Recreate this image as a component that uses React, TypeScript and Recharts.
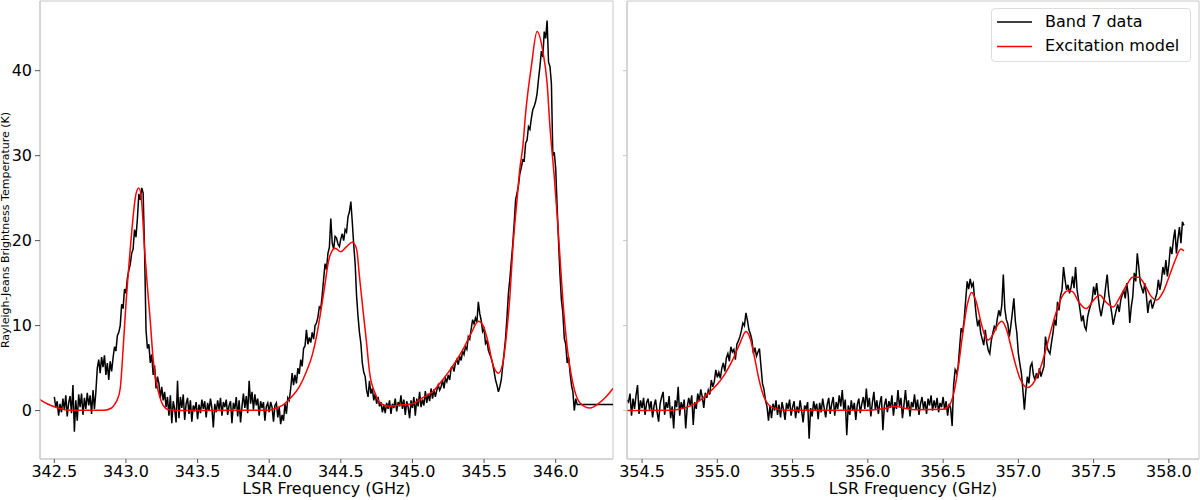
import { LineChart, Line, XAxis, YAxis, ReferenceArea, Legend } from "recharts";

// channel grid of the spectra (GHz)
const CHANNEL = 0.01;
const LEFT_START = 342.5;
const RIGHT_START = 354.4;

// Band 7 data, lower window: 342.50 ... 346.40 GHz, one value per channel
const band7Left = [
  1.6, 0.4, 1.1, -0.6, 0.8, -0.2, 1.4, 0.1, 1.8, -0.7,
  0.9, 1.7, -0.3, 3.0, -2.5, 1.2, -1.2, 1.9, 0.4, 2.0,
  -0.5, 1.5, 0.2, 2.1, 0.6, 1.8, -0.4, 2.4, 0.2, 2.2,
  5.0, 6.0, 4.4, 6.3, 5.1, 6.5, 4.2, 5.6, 3.6, 5.8,
  4.6, 6.2, 7.5, 7.0, 8.8, 9.2, 10.0, 12.5, 12.0, 14.3,
  13.8, 15.6, 16.5, 17.2, 18.5, 19.0, 21.3, 20.4, 22.6, 25.5,
  24.8, 26.2, 25.6, 18.9, 9.5, 7.3, 7.8, 5.6, 6.6, 4.2,
  5.3, 2.6, 4.0, 3.2, 1.5, 2.8, 1.2, 2.2, 0.4, 1.6,
  -0.6, 1.8, -1.5, 1.1, 0.2, -1.4, 3.5, -0.9, 1.6, 0.3,
  1.9, -1.1, 0.8, 1.5, -0.4, 1.2, -1.3, 0.6, 0.1, 1.0,
  -1.0, 0.7, -0.3, 1.3, 0.2, 1.1, -0.8, 0.9, 0.0, 1.4,
  0.3, -2.0, 0.8, -0.2, 1.2, 0.1, 1.5, -0.6, 1.0, 0.4,
  1.3, -0.5, 0.6, 1.1, -1.5, 0.9, 0.2, 1.6, -0.7, 1.2,
  -1.4, 0.5, 2.0, 0.3, 1.7, -0.3, 3.5, 0.8, 2.2, 0.1,
  1.9, 0.6, 1.4, -0.6, 1.1, 0.3, 1.0, -1.2, 0.5, 0.9,
  -0.2, 1.0, 0.4, -1.3, 0.6, 0.9, -0.8, 0.4, -1.6, -0.5,
  -1.2, 0.8, -0.4, 1.5, 1.2, 2.6, 4.4, 3.0, 4.2, 3.2,
  5.0, 4.3, 6.0, 5.2, 7.3, 7.6, 9.5, 7.8, 8.6, 8.0,
  9.2, 8.4, 10.0, 10.3, 11.0, 12.2, 12.0, 13.6, 15.5, 17.3,
  16.6, 18.5, 19.2, 22.6, 19.7, 19.0, 20.5, 20.3, 19.6, 19.3,
  20.2, 20.8, 20.0, 21.3, 21.0, 22.8, 23.4, 24.6, 22.2, 19.5,
  17.3, 13.5, 11.1, 9.2, 7.9, 5.6, 4.5, 4.0, 2.4, 1.6,
  3.5, 2.0, 2.6, 1.2, 2.0, 0.8, 1.6, 0.5, 1.0, -0.2,
  0.6, -0.3, 0.9, 0.2, 1.2, -0.4, 0.8, 0.3, 1.4, -0.1,
  1.0, 0.5, 1.8, 0.2, 1.3, -0.5, 1.1, 0.4, -0.9, 1.2,
  0.3, 1.6, -0.6, 1.4, 0.5, 2.2, 0.4, 1.3, 0.6, 2.3,
  0.9, 2.0, 1.1, 2.6, 1.4, 2.5, 1.6, 2.4, 3.0, 2.4,
  2.8, 3.6, 2.6, 3.8, 3.4, 4.2, 3.6, 5.0, 5.2, 4.6,
  5.6, 6.0, 5.4, 6.4, 5.9, 7.0, 6.6, 7.5, 7.2, 8.7,
  8.4, 9.6, 10.7, 10.2, 10.9, 10.4, 12.8, 11.4, 10.6, 9.3,
  9.6, 7.9, 8.2, 7.1, 6.6, 6.2, 5.5, 4.6, 3.6, 3.0,
  2.2, 2.8, 3.6, 5.2, 6.8, 8.5, 11.0, 13.8, 15.5, 17.5,
  19.5, 22.0, 24.8, 25.6, 26.5, 27.9, 28.6, 29.5, 29.4, 31.5,
  31.8, 33.4, 33.1, 34.4, 35.4, 35.8, 36.4, 37.3, 39.0, 40.5,
  42.3, 41.6, 44.6, 43.8, 45.9, 41.0, 40.5, 38.5, 30.0, 30.4,
  28.5, 24.0, 19.8, 16.0, 13.0, 11.5, 8.5, 7.8, 5.6, 6.3,
  4.5, 3.0, 2.2, 0.0, 1.4, 0.7, 0.7, 0.7, 0.7, 0.7,
  0.7, 0.7, 0.7, 0.7, 0.7, 0.7, 0.7, 0.7, 0.7, 0.7,
  0.7, 0.7, 0.7, 0.7, 0.7, 0.7, 0.7, 0.7, 0.7, 0.7,
  0.7,
];

// Band 7 data, upper window: 354.40 ... 358.10 GHz
const band7Right = [
  1.2, 1.0, 2.0, -0.6, 1.4, 0.2, 1.8, 3.0, -0.4, 1.2,
  0.3, 1.5, -0.5, 0.9, 1.4, 0.1, 1.1, -0.8, 0.6, 1.3,
  -0.2, -1.3, 0.8, 1.6, 2.2, -0.5, 1.0, 0.3, 1.7, -0.9,
  0.5, -2.1, 1.2, 0.4, 2.8, -0.6, 1.0, 0.2, 1.3, -2.1,
  0.4, 1.5, 0.6, 1.8, -1.7, 1.0, 0.2, 2.0, 1.1, 2.5,
  1.6, 0.3, 2.1, 1.5, 2.4, 1.9, 3.6, 2.8, 3.4, 4.8,
  3.9, 4.5, 3.8, 5.0, 5.6, 4.6, 6.2, 6.7, 5.8, 7.5,
  6.9, 7.2, 6.0, 7.8, 8.2, 8.7, 9.4, 10.3, 10.0, 11.5,
  10.6, 9.5, 9.0, 8.3, 6.7, 7.4, 6.4, 6.9, 7.3, 5.2,
  3.2, 2.5, 1.2, 0.5, -1.2, 0.6, -0.9, 0.8, 0.0, 1.2,
  -0.5, 0.7, -0.8, 1.0, 0.1, -1.1, 0.9, 0.2, 1.3, -0.6,
  0.4, 1.1, -0.9, 0.5, -0.3, 1.2, 0.0, -1.4, 0.6, 0.2,
  1.0, -3.3, 0.3, -0.7, 1.1, 0.1, 0.8, -1.0, 0.9, -0.2,
  1.4, 0.3, -0.8, 0.7, 1.5, -0.4, 0.8, 1.6, -0.6, 1.0,
  0.2, 1.8, 0.5, 2.4, 0.1, 1.3, -2.9, 0.6, -0.5, 1.2,
  0.0, 0.9, -1.1, 0.7, 1.4, -0.3, 0.8, 1.6, 0.2, 2.6,
  0.4, 1.5, -0.7, 0.9, 2.2, 0.1, 1.2, -0.4, 0.9, 1.7,
  -2.3, 0.6, 1.4, -0.2, 1.1, 0.3, 1.8, -0.6, 1.0, 0.2,
  2.4, 0.5, 1.5, -0.9, 0.7, 2.4, 0.3, 1.2, -0.7, 1.0,
  0.4, 1.9, 0.1, 1.3, -0.5, 0.8, 1.6, 0.2, 1.1, -0.4,
  1.4, 0.6, 1.8, 0.0, 1.2, 0.3, 1.5, -0.2, 0.9, 0.4,
  1.6, 0.1, 1.1, -0.6, 0.8, 0.3, -1.8, 3.0, 4.8, 4.4,
  5.2, 7.5, 9.7, 9.2, 10.7, 13.0, 15.2, 14.3, 15.5, 14.6,
  15.0, 13.0, 11.2, 9.9, 10.7, 9.1, 8.4, 7.7, 9.5, 8.0,
  7.1, 6.7, 8.2, 9.1, 9.9, 9.6, 10.8, 11.8, 11.1, 12.4,
  16.0, 12.0, 10.7, 10.2, 8.7, 10.0, 11.5, 13.2, 10.5, 9.1,
  6.7, 5.5, 4.4, 2.4, 0.1, 2.4, 4.0, 3.2, 5.2, 5.6,
  4.2, 3.6, 4.4, 3.8, 5.0, 4.0, 4.6, 5.2, 8.7, 7.5,
  7.0, 6.7, 8.0, 9.1, 10.7, 10.0, 12.8, 11.8, 13.5, 14.2,
  16.9, 15.4, 14.2, 14.8, 13.8, 14.5, 15.8, 14.4, 16.9, 14.2,
  13.0, 11.8, 10.5, 11.2, 9.9, 9.5, 11.0, 11.8, 12.4, 13.0,
  14.6, 13.6, 15.0, 13.4, 12.0, 11.1, 12.2, 13.0, 14.6, 16.0,
  13.8, 12.6, 11.5, 10.1, 11.0, 11.8, 12.5, 11.6, 13.0, 13.6,
  14.2, 13.2, 15.0, 13.6, 10.3, 12.2, 13.4, 16.2, 15.2, 18.5,
  16.9, 15.0, 14.4, 13.8, 15.0, 13.6, 11.5, 12.8, 13.0, 12.0,
  12.6, 13.2, 13.8, 15.4, 14.2, 15.2, 16.9, 16.0, 17.7, 15.8,
  17.2, 19.3, 18.4, 20.1, 21.3, 18.5, 20.2, 21.6, 19.7, 22.2,
  21.8,
];

// excitation model, [frequency GHz, T K]
const modelLeft: [number, number][] = [
  [342.4, 1.3], [342.45, 0.8], [342.5, 0.45], [342.55, 0.2], [342.6, 0.05],
  [342.85, 0.05], [342.9, 0.3], [342.92, 0.7], [342.94, 1.3], [342.96, 2.6],
  [342.98, 7.2], [343.0, 12.5], [343.03, 19.0], [343.05, 22.8], [343.07, 25.5],
  [343.09, 26.2], [343.11, 24.5], [343.13, 19.0], [343.15, 14.5], [343.17, 10.5],
  [343.19, 6.0], [343.21, 3.5], [343.23, 2.0], [343.26, 0.6], [343.3, 0.1],
  [343.4, 0.0], [344.0, 0.05], [344.05, 0.3], [344.1, 0.7], [344.15, 1.5],
  [344.21, 2.8], [344.26, 4.6], [344.3, 6.5], [344.33, 8.7], [344.38, 13.8],
  [344.42, 18.0], [344.46, 19.1], [344.5, 18.7], [344.54, 19.3], [344.58, 19.8],
  [344.61, 19.0], [344.63, 15.8], [344.655, 11.8], [344.68, 7.9], [344.7, 4.6],
  [344.74, 2.0], [344.78, 0.8], [344.84, 0.5], [344.91, 0.65], [345.0, 0.8],
  [345.07, 1.5], [345.14, 2.2], [345.21, 3.6], [345.28, 5.2], [345.35, 7.1],
  [345.41, 9.1], [345.46, 10.5], [345.49, 10.1], [345.53, 7.9], [345.56, 5.5],
  [345.6, 4.4], [345.63, 5.5], [345.655, 8.7], [345.68, 13.4], [345.7, 18.9],
  [345.73, 24.8], [345.75, 28.5], [345.77, 31.0], [345.79, 35.0], [345.83, 40.5],
  [345.87, 44.6], [345.91, 42.3], [345.94, 38.5], [345.96, 33.4], [345.99, 27.5],
  [346.01, 23.0], [346.03, 18.0], [346.05, 13.0], [346.08, 7.5], [346.12, 3.2],
  [346.17, 0.9], [346.24, 0.3], [346.3, 0.85], [346.35, 1.6], [346.4, 2.6],
];

const modelRight: [number, number][] = [
  [354.4, 0.0], [354.7, 0.05], [354.75, 0.15], [354.8, 0.4], [354.85, 0.8],
  [354.9, 1.4], [354.95, 2.2], [355.0, 3.1], [355.05, 4.3], [355.1, 5.9],
  [355.15, 7.9], [355.19, 9.3], [355.22, 8.4], [355.25, 6.0], [355.28, 3.4],
  [355.31, 1.6], [355.34, 0.7], [355.38, 0.25], [355.45, 0.05], [356.0, 0.05],
  [356.1, 0.2], [356.18, 0.5], [356.25, 0.25], [356.32, 0.1], [356.5, 0.15],
  [356.54, 0.6], [356.57, 2.0], [356.6, 5.0], [356.63, 9.0], [356.66, 12.4],
  [356.69, 13.9], [356.72, 12.8], [356.75, 10.5], [356.78, 8.7], [356.8, 8.3],
  [356.83, 8.9], [356.86, 10.0], [356.89, 10.5], [356.92, 9.6], [356.95, 7.6],
  [356.98, 5.5], [357.01, 3.8], [357.04, 2.9], [357.06, 2.7], [357.09, 3.0],
  [357.12, 3.9], [357.15, 5.2], [357.18, 7.0], [357.21, 9.0], [357.25, 11.5],
  [357.29, 13.4], [357.33, 14.1], [357.36, 14.0], [357.4, 12.8], [357.45, 12.0],
  [357.5, 13.0], [357.54, 13.6], [357.58, 12.8], [357.63, 12.2], [357.67, 13.2],
  [357.72, 14.8], [357.76, 15.7], [357.8, 15.7], [357.84, 14.8], [357.88, 13.5],
  [357.92, 13.0], [357.96, 13.9], [358.0, 15.7], [358.04, 17.6], [358.08, 19.0],
  [358.1, 18.8],
];

const leftTicks = [342.5, 343.0, 343.5, 344.0, 344.5, 345.0, 345.5, 346.0];
const rightTicks = [354.5, 355.0, 355.5, 356.0, 356.5, 357.0, 357.5, 358.0];
const yTicks = [0, 10, 20, 30, 40];

const LEFT_DOMAIN = [342.4, 346.4];
const RIGHT_DOMAIN = [354.4, 358.2];
const Y_DOMAIN = [-5.7, 48.2];

const SPINE = "#c8c8c8";
const TICK = "#555";
const FONT = "DejaVu Sans";

const toPoints = (values: number[], start: number) =>
  values.map((t, i) => ({ f: Math.round((start + i * CHANNEL) * 100) / 100, t }));
const toModel = (pairs: [number, number][]) => pairs.map(([f, t]) => ({ f, t }));

const leftData = toPoints(band7Left, LEFT_START);
const rightData = toPoints(band7Right, RIGHT_START);

function YLabel() {
  return (
    <text
      x={8.5}
      y={230}
      transform="rotate(-90 8.5 230)"
      textAnchor="middle"
      fontSize={11}
      fill="#000"
      fontFamily={FONT}
    >
      Rayleigh-Jeans Brightness Temperature (K)
    </text>
  );
}

function LegendBox({ payload }: any) {
  return (
    <div style={{ width: 200, height: 54, background: "#fff", border: "1px solid #dddddd", borderRadius: 4, boxSizing: "border-box" }}>
      <svg width={198} height={52}>
        {(payload || []).map((p: any, i: number) => (
          <g key={p.value}>
            <line x1={5} x2={40} y1={13 + i * 24.4} y2={13 + i * 24.4} stroke={p.color} strokeWidth={1.5} />
            <text x={53} y={18 + i * 24.4} fontSize={16} fill="#000" fontFamily={FONT}>
              {p.value}
            </text>
          </g>
        ))}
      </svg>
    </div>
  );
}

const fmt = (v: number) => v.toFixed(1);

export default function App() {
  return (
    <div style={{ position: "absolute", left: 0, top: 0, width: 1200, height: 500, background: "#fff", fontFamily: FONT }}>
      <div style={{ position: "absolute", left: 0, top: 0 }}>
        <LineChart width={620} height={500} margin={{ top: 1, right: 7, bottom: 0, left: 0 }}>
          <XAxis
            type="number"
            dataKey="f"
            domain={LEFT_DOMAIN}
            allowDataOverflow
            ticks={leftTicks}
            interval={0}
            tickFormatter={fmt}
            height={41}
            tickSize={4}
            tickMargin={3}
            axisLine={{ stroke: SPINE }}
            tickLine={{ stroke: TICK }}
            tick={{ fill: "#000", fontSize: 16 }}
            label={{ value: "LSR Frequency (GHz)", position: "insideBottom", offset: 6, fill: "#000", fontSize: 16 }}
          />
          <YAxis
            type="number"
            domain={Y_DOMAIN}
            allowDataOverflow
            ticks={yTicks}
            interval={0}
            width={40}
            tickSize={5}
            tickMargin={3}
            axisLine={{ stroke: SPINE }}
            tickLine={{ stroke: TICK }}
            tick={{ fill: "#000", fontSize: 16 }}
            label={YLabel}
          />
          <ReferenceArea x1={LEFT_DOMAIN[0]} x2={LEFT_DOMAIN[1]} y1={Y_DOMAIN[0]} y2={Y_DOMAIN[1]} fill="none" stroke={SPINE} />
          <Line data={leftData} dataKey="t" name="Band 7 data" type="linear" stroke="#000" strokeWidth={1.5} dot={false} activeDot={false} isAnimationActive={false} />
          <Line data={toModel(modelLeft)} dataKey="t" name="Excitation model" type="monotone" stroke="#ff0000" strokeWidth={1.5} dot={false} activeDot={false} isAnimationActive={false} />
        </LineChart>
      </div>
      <div style={{ position: "absolute", left: 600, top: 0 }}>
        <LineChart width={600} height={500} margin={{ top: 1, right: 1, bottom: 0, left: 0 }}>
          <XAxis
            type="number"
            dataKey="f"
            domain={RIGHT_DOMAIN}
            allowDataOverflow
            ticks={rightTicks}
            interval={0}
            tickFormatter={fmt}
            height={41}
            tickSize={4}
            tickMargin={3}
            axisLine={{ stroke: SPINE }}
            tickLine={{ stroke: TICK }}
            tick={{ fill: "#000", fontSize: 16 }}
            label={{ value: "LSR Frequency (GHz)", position: "insideBottom", offset: 6, fill: "#000", fontSize: 16 }}
          />
          <YAxis
            type="number"
            domain={Y_DOMAIN}
            allowDataOverflow
            ticks={yTicks}
            interval={0}
            width={27}
            tickSize={4}
            tickFormatter={() => ""}
            axisLine={{ stroke: SPINE }}
            tickLine={{ stroke: SPINE }}
          />
          <ReferenceArea x1={RIGHT_DOMAIN[0]} x2={RIGHT_DOMAIN[1]} y1={Y_DOMAIN[0]} y2={Y_DOMAIN[1]} fill="none" stroke={SPINE} />
          <Line data={rightData} dataKey="t" name="Band 7 data" type="linear" stroke="#000" strokeWidth={1.5} dot={false} activeDot={false} isAnimationActive={false} />
          <Line data={toModel(modelRight)} dataKey="t" name="Excitation model" type="monotone" stroke="#ff0000" strokeWidth={1.5} dot={false} activeDot={false} isAnimationActive={false} />
          <Legend
            layout="vertical"
            align="center"
            verticalAlign="middle"
            content={LegendBox}
            wrapperStyle={{ left: 391, top: 8, width: 200, height: 54 }}
          />
        </LineChart>
      </div>
    </div>
  );
}
